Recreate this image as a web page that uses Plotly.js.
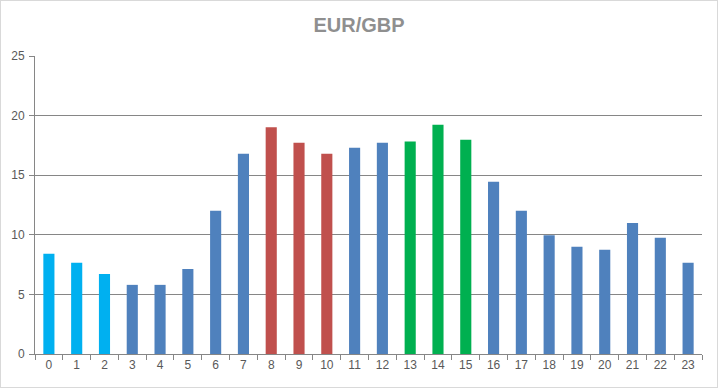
<!DOCTYPE html>
<html>
<head>
<meta charset="utf-8">
<script src="https://cdn.plot.ly/plotly-3.0.1.min.js"></script>
<style>
html,body{margin:0;padding:0;background:#fff;}
#wrap{position:relative;width:718px;height:388px;}
#chart{width:718px;height:388px;}
#frame{position:absolute;left:0;top:0;width:716px;height:386px;border:1px solid #D9D9D9;pointer-events:none;}
</style>
</head>
<body>
<div id="wrap"><div id="chart"></div><div id="frame"></div></div>
<script>
const hours = ["0","1","2","3","4","5","6","7","8","9","10","11","12","13","14","15","16","17","18","19","20","21","22","23"];
const values = [8.4, 7.65, 6.72, 5.8, 5.8, 7.14, 12.02, 16.8, 19.02, 17.73, 16.8, 17.31, 17.73, 17.82, 19.24, 17.98, 14.45, 12.02, 9.97, 8.99, 8.74, 11.0, 9.75, 7.65];
const groups = ["a","a","a","b","b","b","b","b","c","c","c","b","b","d","d","d","b","b","b","b","b","b","b","b"];
const groupColors = {a:"#00B0F0", b:"#4F81BD", c:"#C0504D", d:"#00B050"};
const yTicks = [0, 5, 10, 15, 20, 25];

const trace = {
  type: "bar",
  x: hours,
  y: values,
  marker: {color: groups.map(g => groupColors[g])},
  hoverinfo: "x+y"
};

const layout = {
  width: 718, height: 388,
  margin: {l: 35, r: 16, t: 56, b: 34, pad: 0},
  paper_bgcolor: "#fff", plot_bgcolor: "#fff",
  showlegend: false,
  bargap: 0.6,
  title: {text: "<b>EUR/GBP</b>", x: 0.5, xanchor: "center", y: 0.935, yanchor: "middle",
          font: {family: "Liberation Sans, Arial, sans-serif", size: 20, color: "#8F8F8F"}},
  xaxis: {
    type: "category",
    tickson: "boundaries",
    ticks: "outside", ticklen: 5, tickcolor: "#868686", tickwidth: 1,
    showline: true, linecolor: "#868686", linewidth: 1,
    showgrid: false, zeroline: false,
    tickfont: {family: "Liberation Sans, Arial, sans-serif", size: 12, color: "#595959"},
    fixedrange: true
  },
  yaxis: {
    range: [0, 25],
    tickvals: yTicks, ticktext: yTicks.map(String),
    ticks: "outside", ticklen: 5, tickcolor: "#868686", tickwidth: 1,
    ticklabelstandoff: 2,
    showline: true, linecolor: "#868686", linewidth: 1,
    showgrid: true, gridcolor: "#868686", gridwidth: 1,
    zeroline: false,
    tickfont: {family: "Liberation Sans, Arial, sans-serif", size: 12, color: "#595959"},
    fixedrange: true
  }
};

Plotly.newPlot("chart", [trace], layout, {displayModeBar: false, staticPlot: true});
</script>
</body>
</html>
